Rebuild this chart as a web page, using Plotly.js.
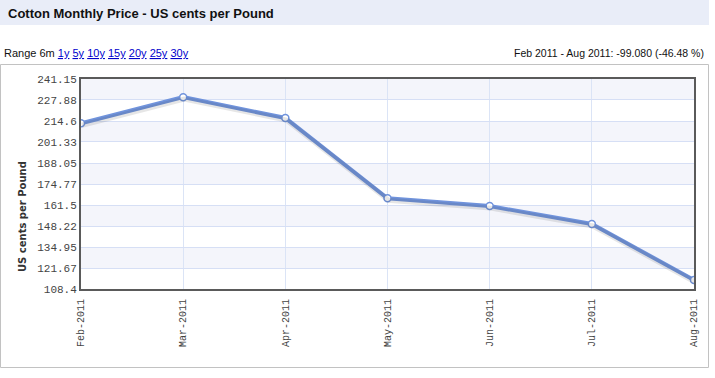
<!DOCTYPE html>
<html>
<head>
<meta charset="utf-8">
<script src="https://cdn.plot.ly/plotly-3.0.1.min.js"></script>
<style>html,body{margin:0;padding:0;background:#fff;}#chart{width:715px;height:378px;}</style>
</head>
<body>
<div id="chart"></div>
<script>
var months = ["Feb-2011","Mar-2011","Apr-2011","May-2011","Jun-2011","Jul-2011","Aug-2011"];
var prices = [213.17, 229.67, 216.5, 165.8, 160.8, 149.5, 114.09];
var yTickVals = [108.4, 121.67, 134.95, 148.22, 161.5, 174.77, 188.05, 201.33, 214.6, 227.88, 241.15];
var yTickText = ["108.4","121.67","134.95","148.22","161.5","174.77","188.05","201.33","214.6","227.88","241.15"];
var rangeLinks = ["1y","5y","10y","15y","20y","25y","30y"];
var titleText = "Cotton Monthly Price - US cents per Pound";
var yTitle = "US cents per Pound";
var changeText = "Feb 2011 - Aug 2011: -99.080 (-46.48 %)";

var L = 81, R = 694, T = 79, B = 289, W = 715, H = 378;
function px(x){ return (x - L) / (R - L); }
function py(y){ return (B - y) / (B - T); }

var yMin = yTickVals[0], yMax = yTickVals[yTickVals.length-1];
var perPx = (yMax - yMin) / (B - T);

var shapes = [];
shapes.push({type:"rect", xref:"paper", yref:"paper", x0:px(0), x1:px(709), y0:py(25), y1:py(0), fillcolor:"#e9edf8", line:{width:0}, layer:"below"});
shapes.push({type:"rect", xref:"paper", yref:"paper", x0:px(0.5), x1:px(708.5), y0:py(367.5), y1:py(64.5), fillcolor:"rgba(0,0,0,0)", line:{color:"#c2c2c2", width:1}, layer:"below"});
for (var i = yTickVals.length - 1; i > 0; i -= 2) {
  shapes.push({type:"rect", xref:"paper", yref:"y", x0:0, x1:1, y0:yTickVals[i-1], y1:yTickVals[i], fillcolor:"#f4f5fb", line:{width:0}, layer:"below"});
}

var linkHtml = rangeLinks.map(function(s){ return '<span style="color:#0000cc;text-decoration:underline">' + s + '</span>'; }).join(' ');

var annotations = [
  {xref:"paper", yref:"paper", x:px(6), y:py(13), xanchor:"left", yanchor:"middle", showarrow:false, text:"<b>"+titleText+"</b>", font:{family:"Liberation Sans, Arial", size:13, color:"#111"}},
  {xref:"paper", yref:"paper", x:px(2), y:py(53), xanchor:"left", yanchor:"middle", showarrow:false, text:"Range 6m " + linkHtml, font:{family:"Liberation Sans, Arial", size:11, color:"#111"}},
  {xref:"paper", yref:"paper", x:px(706), y:py(53), xanchor:"right", yanchor:"middle", showarrow:false, text:changeText, font:{family:"Liberation Sans, Arial", size:10.5, color:"#111"}},
  {xref:"paper", yref:"paper", x:px(22), y:py(217), xanchor:"center", yanchor:"middle", textangle:-90, showarrow:false, text:"<b>"+yTitle+"</b>", font:{family:"DejaVu Sans, Verdana", size:10, color:"#333"}}
];

var shadow = {
  x: months, y: prices, xaxis:"x2", yaxis:"y2", type:"scatter", mode:"lines",
  line:{color:"rgba(60,60,60,0.13)", width:5}, hoverinfo:"skip", showlegend:false
};
var main = {
  x: months, y: prices, type:"scatter", mode:"lines+markers",
  line:{color:"#7093dc", width:4},
  marker:{size:7, color:"#ffffff", line:{color:"#7093dc", width:1.5}},
  showlegend:false
};

var layout = {
  width: W, height: H,
  margin:{l:L, r:W-R, t:T, b:H-B, pad:0},
  paper_bgcolor:"#ffffff", plot_bgcolor:"#ffffff",
  showlegend:false,
  xaxis:{
    type:"category", range:[0, months.length-1], tickangle:-90,
    showgrid:true, gridcolor:"#dbe4f6", gridwidth:1,
    showline:true, linecolor:"#5a5a5a", linewidth:2, mirror:true,
    ticks:"", zeroline:false, ticklabelstandoff:4,
    tickfont:{family:"Liberation Mono, DejaVu Sans Mono, monospace", size:10, color:"#444"}
  },
  yaxis:{
    range:[yMin, yMax], tickmode:"array", tickvals:yTickVals, ticktext:yTickText,
    showgrid:true, gridcolor:"#d6dff5", gridwidth:1,
    showline:true, linecolor:"#5a5a5a", linewidth:2, mirror:true,
    ticks:"", zeroline:false,
    tickfont:{family:"Liberation Mono, DejaVu Sans Mono, monospace", size:11, color:"#444"}
  },
  xaxis2:{overlaying:"x", type:"category", range:[0 - 1/((R-L)/(months.length-1)), months.length-1 - 1/((R-L)/(months.length-1))], visible:false},
  yaxis2:{overlaying:"y", range:[yMin + 2*perPx, yMax + 2*perPx], visible:false},
  shapes: shapes,
  annotations: annotations
};

Plotly.newPlot("chart", [shadow, main], layout, {staticPlot:true, displayModeBar:false});
</script>
</body>
</html>
